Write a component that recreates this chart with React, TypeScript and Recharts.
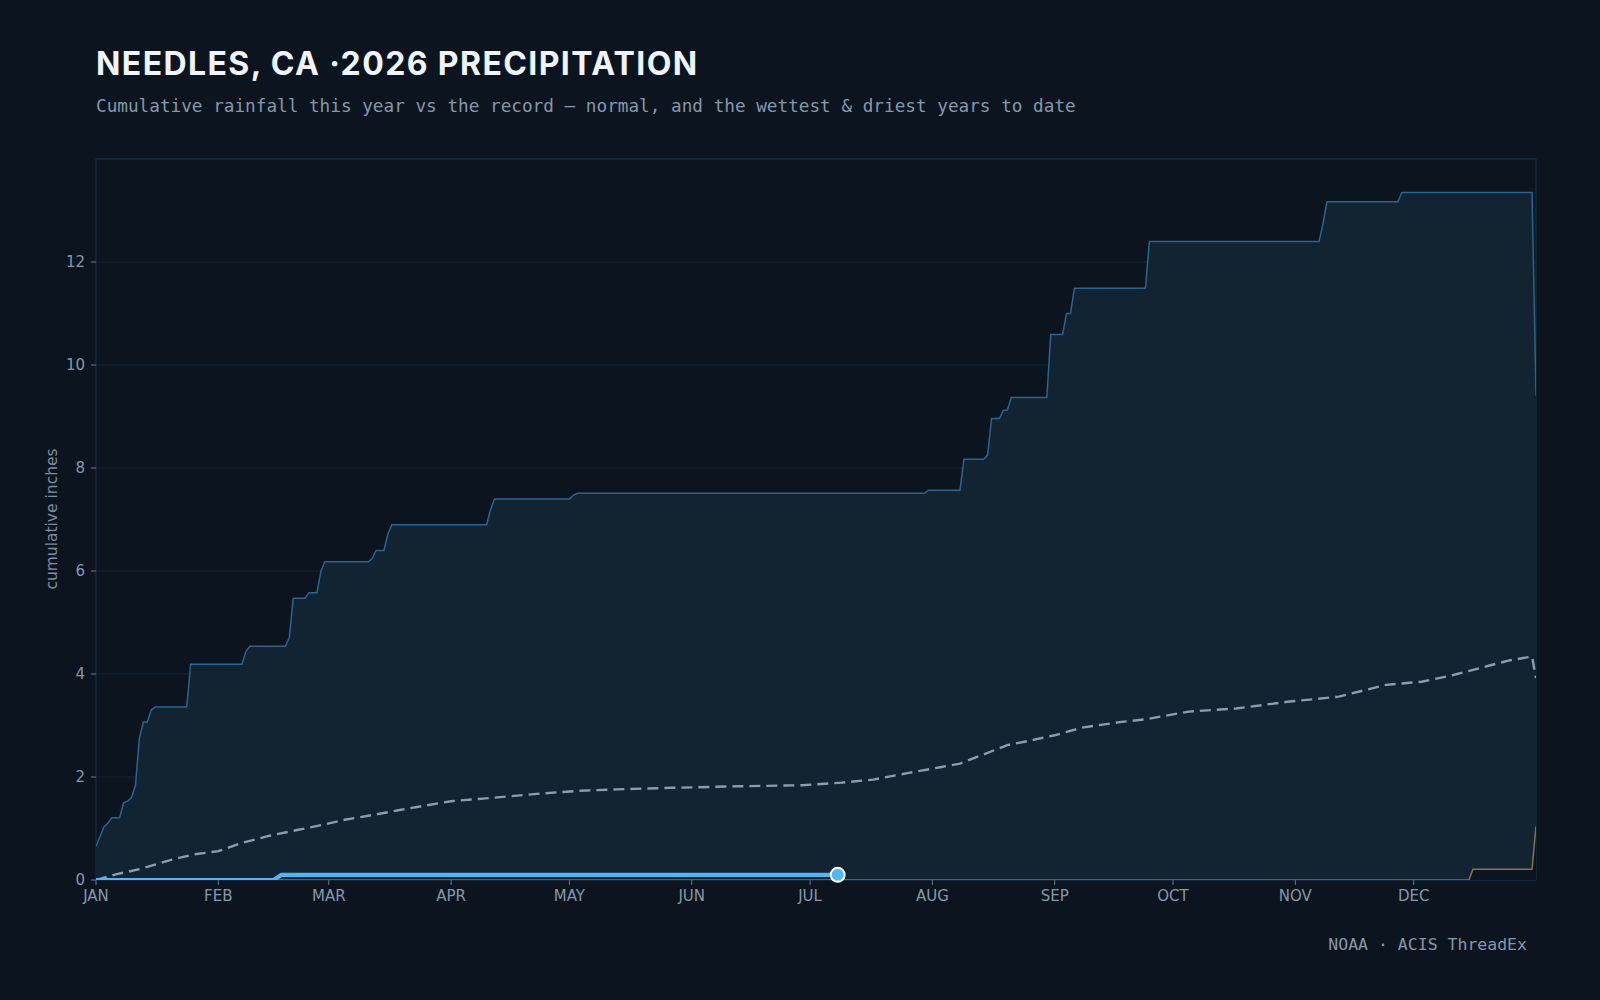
import React from 'react';
import {
  ComposedChart,
  Area,
  Line,
  XAxis,
  YAxis,
  CartesianGrid,
  ReferenceArea,
  ReferenceDot,
} from 'recharts';

// ---- tick labels / categories ----
const monthStartDays = [0, 31, 59, 90, 120, 151, 181, 212, 243, 273, 304, 334];
const monthLabels = ['JAN', 'FEB', 'MAR', 'APR', 'MAY', 'JUN', 'JUL', 'AUG', 'SEP', 'OCT', 'NOV', 'DEC'];
const inchTicks = [0, 2, 4, 6, 8, 10, 12];

// ---- series: [day of year (Jan 1 = 0), cumulative inches] ----
const wettestToDate: [number, number][] = [
  [0, 0.65], [2, 1.03], [3, 1.1], [4, 1.21], [6, 1.21], [7, 1.5], [8, 1.53], [9, 1.6], [10, 1.84],
  [11, 2.75], [12, 3.07], [13, 3.07], [14, 3.3], [15, 3.36], [23, 3.36], [24, 4.19], [37, 4.19],
  [38, 4.44], [39, 4.54], [48, 4.54], [49, 4.71], [50, 5.47], [53, 5.47], [54, 5.58], [56, 5.58],
  [57, 5.99], [58, 6.18], [69, 6.18], [70, 6.24], [71, 6.4], [73, 6.4], [74, 6.72], [75, 6.9],
  [99, 6.9], [100, 7.19], [101, 7.4], [120, 7.4], [121, 7.47], [122, 7.51], [210, 7.51], [211, 7.57],
  [219, 7.57], [220, 8.17], [225, 8.17], [226, 8.25], [227, 8.96], [229, 8.96], [230, 9.12],
  [231, 9.12], [232, 9.37], [241, 9.37], [242, 10.59], [245, 10.59], [246, 11.0], [247, 11.0],
  [248, 11.49], [266, 11.49], [267, 12.4], [310, 12.4], [311, 12.74], [312, 13.17], [330, 13.17],
  [331, 13.35], [364, 13.35], [365, 9.41],
];

const normalToDate: [number, number][] = [
  [0, 0], [5, 0.11], [11, 0.21], [19, 0.39], [25, 0.5], [31, 0.56], [37, 0.72], [44, 0.86],
  [51, 0.97], [58, 1.08], [63, 1.17], [70, 1.26], [77, 1.36], [83, 1.44], [90, 1.53], [98, 1.58],
  [113, 1.68], [122, 1.73], [132, 1.76], [146, 1.79], [163, 1.82], [179, 1.84], [189, 1.89],
  [197, 1.95], [206, 2.08], [214, 2.19], [219, 2.26], [223, 2.38], [231, 2.62], [235, 2.68],
  [243, 2.81], [250, 2.96], [260, 3.07], [266, 3.12], [277, 3.27], [289, 3.33], [302, 3.46],
  [315, 3.56], [327, 3.79], [336, 3.85], [344, 3.98], [353, 4.16], [358, 4.26], [364, 4.34],
  [365, 3.92],
];

const driestToDate: [number, number][] = [
  [0, 0], [348, 0], [349, 0.21], [364, 0.21], [365, 1.04],
];

const thisYear: [number, number][] = [
  [0, 0], [45, 0], [46, 0.05], [47, 0.1], [188, 0.1],
];

// ---- table for the library (built from the arrays above) ----
type Row = { day: number; wet?: number; normal?: number; dry?: number; year?: number };
const buildTable = (): Row[] => {
  const map = new Map<number, Row>();
  const put = (arr: [number, number][], key: keyof Row) => {
    arr.forEach(([d, v]) => {
      const r = map.get(d) || { day: d };
      (r as any)[key] = v;
      map.set(d, r);
    });
  };
  put(wettestToDate, 'wet');
  put(normalToDate, 'normal');
  put(driestToDate, 'dry');
  put(thisYear, 'year');
  return Array.from(map.values()).sort((a, b) => a.day - b.day);
};
const table = buildTable();
const lastYearPoint = thisYear[thisYear.length - 1];

const BG = '#0c151f';
const TEXT = '#8797aa';

export default function App() {
  return (
    <div style={{ position: 'absolute', left: 0, top: 0, width: 1600, height: 1000, background: BG }}>
      <svg width={1600} height={1000} style={{ position: 'absolute', left: 0, top: 0 }}>
        <text x={96} y={75} fill="#eef4fa" fontFamily="Inter, 'DejaVu Sans'" fontWeight={700} fontSize={32} letterSpacing={1.4}>
          NEEDLES, CA ·2026 PRECIPITATION
        </text>
        <text x={96} y={112} fill={TEXT} fontFamily="'DejaVu Sans Mono', monospace" fontSize={17.7}>
          Cumulative rainfall this year vs the record — normal, and the wettest &amp; driest years to date
        </text>
        <text x={1527} y={950} fill={TEXT} textAnchor="end" fontFamily="'DejaVu Sans Mono', monospace" fontSize={16.5}>
          NOAA · ACIS ThreadEx
        </text>
        <text
          transform="translate(52,519) rotate(-90)"
          textAnchor="middle"
          dominantBaseline="central"
          fill="#7d8da0"
          fontFamily="'DejaVu Sans', sans-serif"
          fontSize={15.5}
        >
          cumulative inches
        </text>
      </svg>
      <div style={{ position: 'absolute', left: 0, top: 0 }}>
        <ComposedChart
          width={1600}
          height={1000}
          data={table}
          margin={{ top: 159, right: 64, bottom: 80, left: 36 }}
        >
          <CartesianGrid vertical={false} stroke="#15263a" strokeWidth={1} />
          <ReferenceArea x1={0} x2={365} y1={0} y2={14} fill="none" stroke="#1a2d40" strokeWidth={1.2} ifOverflow="visible" />
          <XAxis
            type="number"
            dataKey="day"
            domain={[0, 365]}
            ticks={monthStartDays}
            tickFormatter={(v: number) => monthLabels[monthStartDays.indexOf(v)] ?? ''}
            interval={0}
            height={40}
            tickSize={5}
            tickMargin={5}
            axisLine={false}
            tickLine={{ stroke: '#6a7b8d' }}
            tick={{ fill: TEXT, fontSize: 15, fontFamily: "'DejaVu Sans', sans-serif" }}
            allowDataOverflow
          />
          <YAxis
            type="number"
            domain={[0, 14]}
            ticks={inchTicks}
            interval={0}
            width={60}
            tickSize={5}
            tickMargin={6}
            axisLine={false}
            tickLine={{ stroke: '#6a7b8d' }}
            tick={{ fill: TEXT, fontSize: 15, fontFamily: "'DejaVu Sans', sans-serif" }}
            allowDataOverflow
          />
          <Area
            type="linear"
            dataKey="wet"
            stroke="#2c6390"
            strokeWidth={1.5}
            fill="#122332"
            fillOpacity={1}
            connectNulls
            dot={false}
            activeDot={false}
            isAnimationActive={false}
          />
          <Area
            type="linear"
            dataKey="dry"
            stroke="#8a7346"
            strokeWidth={1.5}
            fill={BG}
            fillOpacity={1}
            connectNulls
            dot={false}
            activeDot={false}
            isAnimationActive={false}
          />
          <Line
            type="linear"
            dataKey="normal"
            stroke="#8d9db0"
            strokeWidth={2.4}
            strokeDasharray="11 6"
            connectNulls
            dot={false}
            activeDot={false}
            isAnimationActive={false}
          />
          <Line
            type="linear"
            dataKey="year"
            stroke="#4fb8f3"
            strokeWidth={4.2}
            strokeLinejoin="round"
            connectNulls
            dot={false}
            activeDot={false}
            isAnimationActive={false}
          />
          <ReferenceDot
            x={lastYearPoint[0]}
            y={lastYearPoint[1]}
            r={7}
            fill="#4fb8f3"
            stroke="#ffffff"
            strokeWidth={2}
            ifOverflow="visible"
          />
        </ComposedChart>
      </div>
    </div>
  );
}
